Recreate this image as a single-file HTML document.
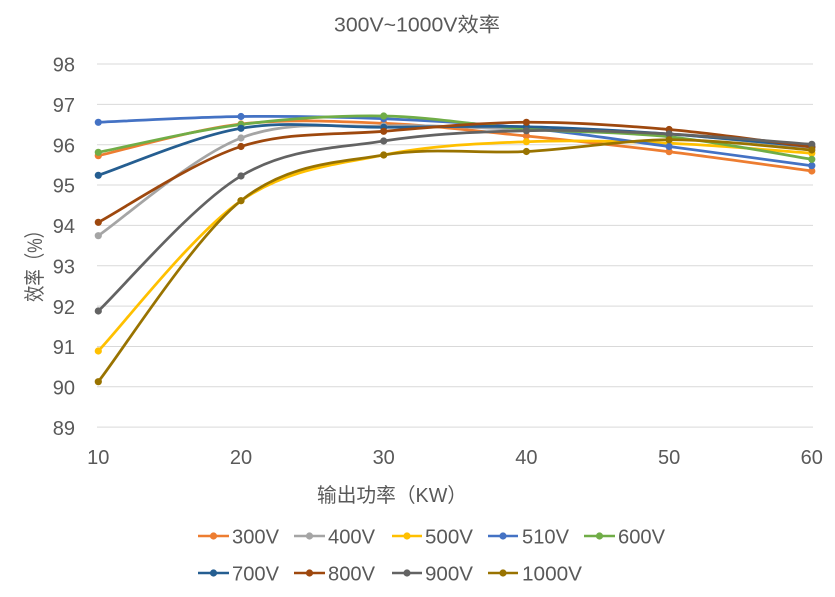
<!DOCTYPE html>
<html>
<head>
<meta charset="utf-8">
<style>
html,body{margin:0;padding:0;background:#fff;}
svg{display:block;}
text{font-family:"Liberation Sans","Noto Sans CJK SC",sans-serif;fill:#595959;}
</style>
</head>
<body>
<svg width="835" height="597" viewBox="0 0 835 597" xmlns="http://www.w3.org/2000/svg">
<rect width="835" height="597" fill="#fff"/>
<text x="334" y="31.5" font-size="20" textLength="166" lengthAdjust="spacingAndGlyphs">300V~1000V效率</text>

<g stroke="#d9d9d9" stroke-width="1">
<line x1="97" y1="64" x2="813" y2="64"/>
<line x1="97" y1="104.35" x2="813" y2="104.35"/>
<line x1="97" y1="144.7" x2="813" y2="144.7"/>
<line x1="97" y1="185.05" x2="813" y2="185.05"/>
<line x1="97" y1="225.4" x2="813" y2="225.4"/>
<line x1="97" y1="265.75" x2="813" y2="265.75"/>
<line x1="97" y1="306.1" x2="813" y2="306.1"/>
<line x1="97" y1="346.45" x2="813" y2="346.45"/>
<line x1="97" y1="386.8" x2="813" y2="386.8"/>
<line x1="97" y1="427.15" x2="813" y2="427.15"/>
</g>

<g font-size="20" text-anchor="end">
<text x="75" y="71.7">98</text>
<text x="75" y="112">97</text>
<text x="75" y="152.4">96</text>
<text x="75" y="192.7">95</text>
<text x="75" y="233.1">94</text>
<text x="75" y="273.4">93</text>
<text x="75" y="313.8">92</text>
<text x="75" y="354.1">91</text>
<text x="75" y="394.5">90</text>
<text x="75" y="434.8">89</text>
</g>
<g font-size="20" text-anchor="middle">
<text x="98.3" y="464">10</text>
<text x="241" y="464">20</text>
<text x="383.7" y="464">30</text>
<text x="526.4" y="464">40</text>
<text x="669.1" y="464">50</text>
<text x="811.8" y="464">60</text>
</g>
<text x="317" y="502" font-size="20" textLength="150" lengthAdjust="spacingAndGlyphs">输出功率（KW）</text>
<text transform="translate(42,302) rotate(-90)" x="0" y="0" font-size="21" textLength="80" lengthAdjust="spacingAndGlyphs">效率（%）</text>

<g fill="none" stroke-width="2.75" stroke-linejoin="round" stroke-linecap="round">
<path stroke="#ED7D31" d="M98.3,155.7 C122.1,150.4 193.4,129.4 241,124 C288.6,118.6 336.1,121.3 383.7,123.3 C431.3,125.3 478.8,131.3 526.4,136 C574,140.7 621.5,145.9 669.1,151.7 C716.7,157.5 788,167.8 811.8,171"/>
<path stroke="#A5A5A5" d="M98.3,235.7 C122.1,219.4 193.4,156.3 241,138 C288.6,119.7 336.1,127.4 383.7,126 C431.3,124.6 478.8,128.2 526.4,129.5 C574,130.8 621.5,130.9 669.1,134 C716.7,137.1 788,145.7 811.8,148"/>
<path stroke="#FFC000" d="M98.3,351 C122.1,326 193.4,233.4 241,200.7 C288.6,168 336.1,164.8 383.7,155 C431.3,145.2 478.8,143.7 526.4,141.7 C574,139.8 621.5,141.4 669.1,143.3 C716.7,145.2 788,151.6 811.8,153.3"/>
<path stroke="#4472C4" d="M98.3,122.3 C122.1,121.3 193.4,117.1 241,116.5 C288.6,115.9 336.1,116.8 383.7,118.7 C431.3,120.6 478.8,123.4 526.4,128 C574,132.6 621.5,140.2 669.1,146.5 C716.7,152.8 788,162.5 811.8,165.7"/>
<path stroke="#70AD47" d="M98.3,152.3 C122.1,147.7 193.4,130.6 241,124.5 C288.6,118.5 336.1,115.3 383.7,116 C431.3,116.8 478.8,125.6 526.4,129 C574,132.5 621.5,131.7 669.1,136.7 C716.7,141.8 788,155.5 811.8,159.3"/>
<path stroke="#255E91" d="M98.3,175.3 C122.1,167.5 193.4,136.3 241,128.3 C288.6,120.3 336.1,127.6 383.7,127.3 C431.3,127 478.8,125.6 526.4,126.7 C574,127.8 621.5,130.7 669.1,134 C716.7,137.3 788,144.6 811.8,146.7"/>
<path stroke="#9E480E" d="M98.3,222.3 C122.1,209.7 193.4,161.7 241,146.5 C288.6,131.3 336.1,135.3 383.7,131.3 C431.3,127.3 478.8,122.6 526.4,122.3 C574,122 621.5,125.4 669.1,129.5 C716.7,133.6 788,144.1 811.8,147"/>
<path stroke="#636363" d="M98.3,311 C122.1,288.5 193.4,204.3 241,176 C288.6,147.7 336.1,148.6 383.7,141 C431.3,133.5 478.8,131.9 526.4,130.7 C574,129.5 621.5,131.7 669.1,134 C716.7,136.3 788,142.6 811.8,144.3"/>
<path stroke="#997300" d="M98.3,381.7 C122.1,351.5 193.4,238.5 241,200.7 C288.6,162.9 336.1,163.2 383.7,155 C431.3,146.8 478.8,154 526.4,151.5 C574,149 621.5,140.1 669.1,139.8 C716.7,139.6 788,148.3 811.8,150"/>
</g>

<g>
<g fill="#ED7D31"><circle cx="98.3" cy="155.7" r="3.6"/><circle cx="241" cy="124" r="3.6"/><circle cx="383.7" cy="123.3" r="3.6"/><circle cx="526.4" cy="136" r="3.6"/><circle cx="669.1" cy="151.7" r="3.6"/><circle cx="811.8" cy="171" r="3.6"/></g>
<g fill="#A5A5A5"><circle cx="98.3" cy="235.7" r="3.6"/><circle cx="241" cy="138" r="3.6"/><circle cx="383.7" cy="126" r="3.6"/><circle cx="526.4" cy="129.5" r="3.6"/><circle cx="669.1" cy="134" r="3.6"/><circle cx="811.8" cy="148" r="3.6"/></g>
<g fill="#FFC000"><circle cx="98.3" cy="351" r="3.6"/><circle cx="241" cy="200.7" r="3.6"/><circle cx="383.7" cy="155" r="3.6"/><circle cx="526.4" cy="141.7" r="3.6"/><circle cx="669.1" cy="143.3" r="3.6"/><circle cx="811.8" cy="153.3" r="3.6"/></g>
<g fill="#4472C4"><circle cx="98.3" cy="122.3" r="3.6"/><circle cx="241" cy="116.5" r="3.6"/><circle cx="383.7" cy="118.7" r="3.6"/><circle cx="526.4" cy="128" r="3.6"/><circle cx="669.1" cy="146.5" r="3.6"/><circle cx="811.8" cy="165.7" r="3.6"/></g>
<g fill="#70AD47"><circle cx="98.3" cy="152.3" r="3.6"/><circle cx="241" cy="124.5" r="3.6"/><circle cx="383.7" cy="116" r="3.6"/><circle cx="526.4" cy="129" r="3.6"/><circle cx="669.1" cy="136.7" r="3.6"/><circle cx="811.8" cy="159.3" r="3.6"/></g>
<g fill="#255E91"><circle cx="98.3" cy="175.3" r="3.6"/><circle cx="241" cy="128.3" r="3.6"/><circle cx="383.7" cy="127.3" r="3.6"/><circle cx="526.4" cy="126.7" r="3.6"/><circle cx="669.1" cy="134" r="3.6"/><circle cx="811.8" cy="146.7" r="3.6"/></g>
<g fill="#9E480E"><circle cx="98.3" cy="222.3" r="3.6"/><circle cx="241" cy="146.5" r="3.6"/><circle cx="383.7" cy="131.3" r="3.6"/><circle cx="526.4" cy="122.3" r="3.6"/><circle cx="669.1" cy="129.5" r="3.6"/><circle cx="811.8" cy="147" r="3.6"/></g>
<g fill="#636363"><circle cx="98.3" cy="311" r="3.6"/><circle cx="241" cy="176" r="3.6"/><circle cx="383.7" cy="141" r="3.6"/><circle cx="526.4" cy="130.7" r="3.6"/><circle cx="669.1" cy="134" r="3.6"/><circle cx="811.8" cy="144.3" r="3.6"/></g>
<g fill="#997300"><circle cx="98.3" cy="381.7" r="3.6"/><circle cx="241" cy="200.7" r="3.6"/><circle cx="383.7" cy="155" r="3.6"/><circle cx="526.4" cy="151.5" r="3.6"/><circle cx="669.1" cy="139.8" r="3.6"/><circle cx="811.8" cy="150" r="3.6"/></g>
</g>

<!-- Legend -->
<g stroke-width="2.5">
<line x1="198" y1="536" x2="229" y2="536" stroke="#ED7D31"/>
<line x1="294" y1="536" x2="325" y2="536" stroke="#A5A5A5"/>
<line x1="392" y1="536" x2="422" y2="536" stroke="#FFC000"/>
<line x1="488" y1="536" x2="518" y2="536" stroke="#4472C4"/>
<line x1="584" y1="536" x2="615" y2="536" stroke="#70AD47"/>
<line x1="198" y1="573" x2="229" y2="573" stroke="#255E91"/>
<line x1="294" y1="573" x2="325" y2="573" stroke="#9E480E"/>
<line x1="392" y1="573" x2="422" y2="573" stroke="#636363"/>
<line x1="488" y1="573" x2="518" y2="573" stroke="#997300"/>
</g>
<circle cx="213.5" cy="536" r="3.6" fill="#ED7D31"/>
<circle cx="309.5" cy="536" r="3.6" fill="#A5A5A5"/>
<circle cx="407" cy="536" r="3.6" fill="#FFC000"/>
<circle cx="503" cy="536" r="3.6" fill="#4472C4"/>
<circle cx="599.5" cy="536" r="3.6" fill="#70AD47"/>
<circle cx="213.5" cy="573" r="3.6" fill="#255E91"/>
<circle cx="309.5" cy="573" r="3.6" fill="#9E480E"/>
<circle cx="407" cy="573" r="3.6" fill="#636363"/>
<circle cx="503" cy="573" r="3.6" fill="#997300"/>
<g font-size="20">
<text x="232" y="543.5" textLength="47" lengthAdjust="spacingAndGlyphs">300V</text>
<text x="328" y="543.5" textLength="47" lengthAdjust="spacingAndGlyphs">400V</text>
<text x="425" y="543.5" textLength="48" lengthAdjust="spacingAndGlyphs">500V</text>
<text x="522" y="543.5" textLength="47" lengthAdjust="spacingAndGlyphs">510V</text>
<text x="618" y="543.5" textLength="47" lengthAdjust="spacingAndGlyphs">600V</text>
<text x="232" y="580.5" textLength="47" lengthAdjust="spacingAndGlyphs">700V</text>
<text x="328" y="580.5" textLength="47" lengthAdjust="spacingAndGlyphs">800V</text>
<text x="425" y="580.5" textLength="48" lengthAdjust="spacingAndGlyphs">900V</text>
<text x="522" y="580.5" textLength="60" lengthAdjust="spacingAndGlyphs">1000V</text>
</g>
</svg>
</body>
</html>
